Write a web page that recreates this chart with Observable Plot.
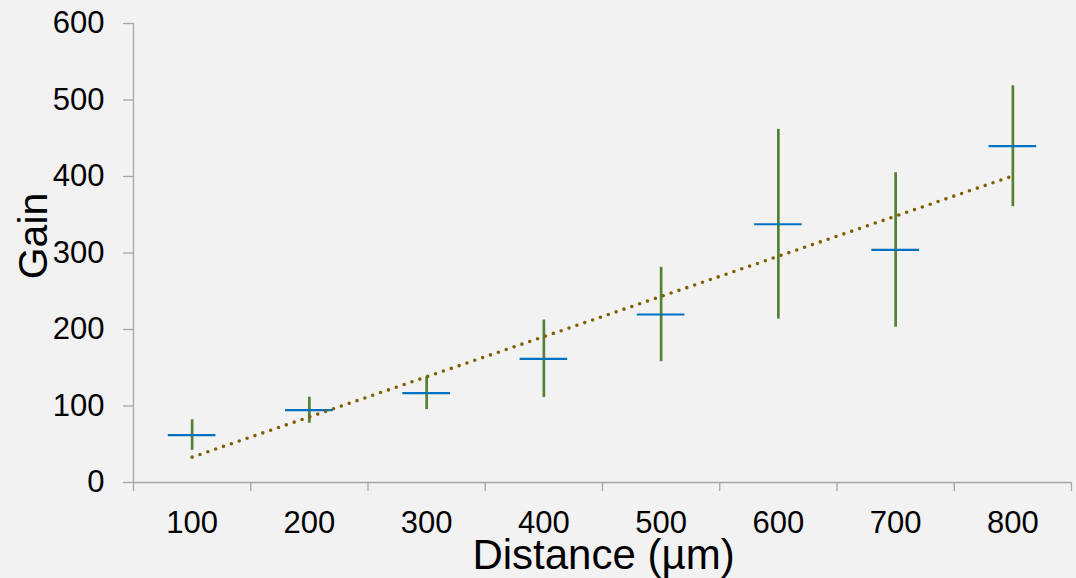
<!DOCTYPE html>
<html>
<head>
<meta charset="utf-8">
<script src="https://cdn.jsdelivr.net/npm/d3@7"></script>
<script src="https://cdn.jsdelivr.net/npm/@observablehq/plot@0.6"></script>
<style>
  html, body { margin: 0; padding: 0; background: #f2f2f2; }
  #chart svg { display: block; }
</style>
</head>
<body>
<div id="chart"></div>
<script>
const distances = [100, 200, 300, 400, 500, 600, 700, 800];
const gainMean = [62, 94.5, 116.7, 161.7, 219.6, 337.6, 304, 439.6];
const gainErr = [20, 17, 21.4, 50.7, 61.7, 124, 101, 79];
const yTicks = [0, 100, 200, 300, 400, 500, 600];
const xBoundaries = [50, 150, 250, 350, 450, 550, 650, 750, 850];
const xLabel = "Distance (µm)";
const yLabel = "Gain";

const data = distances.map((d, i) => ({dist: d, mean: gainMean[i], err: gainErr[i]}));

const axisColor = "#a6a6a6";
const font = "'Liberation Sans', Arial, sans-serif";

const chart = Plot.plot({
  width: 1076,
  height: 578,
  marginLeft: 133,
  marginRight: 5,
  marginTop: 23,
  marginBottom: 96,
  style: {background: "#f2f2f2", fontFamily: font, color: "#000"},
  x: {type: "linear", domain: [50, 850], axis: null},
  y: {domain: [0, 600], axis: null},
  marks: [
    Plot.ruleX([50], {y1: 0, y2: 600, stroke: axisColor, strokeWidth: 1.3}),
    Plot.ruleY([0], {stroke: axisColor, strokeWidth: 1.3}),
    Plot.axisY({ticks: yTicks, tickSize: 10, tickPadding: 19, stroke: axisColor, strokeWidth: 1.3, fontSize: 31, fill: "#000", label: null}),
    Plot.axisX({ticks: xBoundaries, tickSize: 9, tickFormat: () => "", stroke: axisColor, strokeWidth: 1.3, label: null}),
    Plot.axisX({ticks: distances, tickSize: 0, tickPadding: 28, tickFormat: d => String(d), fontSize: 31, fill: "#000", label: null}),
    Plot.ruleX(data, {x: "dist", y1: d => d.mean - d.err, y2: d => d.mean + d.err, stroke: "#548235", strokeWidth: 2.7}),
    Plot.ruleY(data, {y: "mean", x1: d => d.dist - 20.3, x2: d => d.dist + 20.3, stroke: "#0070c0", strokeWidth: 2.2}),
    Plot.linearRegressionY(data, {x: "dist", y: "mean", ci: 0, stroke: "#7f6000", strokeWidth: 3.6, strokeDasharray: "0 8.3", strokeLinecap: "round"}),
    Plot.text([xLabel], {frameAnchor: "bottom", textAnchor: "middle", lineAnchor: "middle", dx: 1, dy: 73, fontSize: 42, fill: "#000", text: d => d}),
    Plot.text([yLabel], {frameAnchor: "left", textAnchor: "middle", lineAnchor: "middle", dx: -100, dy: -17, rotate: -90, fontSize: 41, fill: "#000", text: d => d})
  ]
});

document.getElementById("chart").appendChild(chart);
</script>
</body>
</html>
